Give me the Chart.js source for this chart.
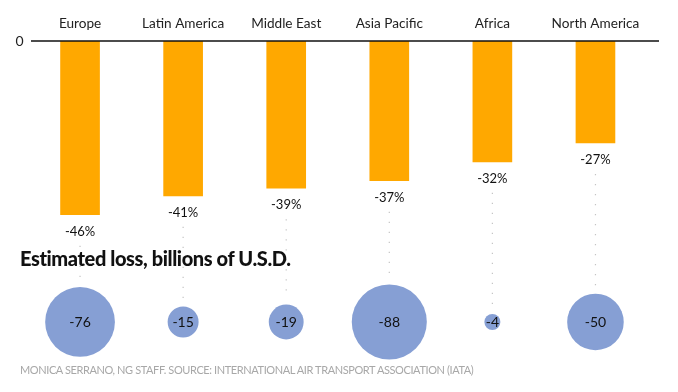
<!DOCTYPE html>
<html>
<head>
<meta charset="utf-8">
<script src="https://cdn.jsdelivr.net/npm/chart.js@4.4.1/dist/chart.umd.min.js"></script>
<style>
  html, body { margin: 0; padding: 0; background: #fff; }
  #wrap { position: relative; width: 678px; height: 392px; font-family: Lato, sans-serif; }
  #chart { position: absolute; left: 0; top: 0; }
  .title { position: absolute; left: 20px; top: 246px; font-size: 20px; font-weight: 900; color: #111; letter-spacing: -0.4px; }
  .credit { position: absolute; left: 20px; top: 363px; font-size: 11px; color: #a8a8a8; letter-spacing: -0.4px; }
</style>
</head>
<body>
<div id="wrap">
  <canvas id="chart" width="678" height="392"></canvas>
  <div class="title">Estimated loss, billions of U.S.D.</div>
  <div class="credit">MONICA SERRANO, NG STAFF. SOURCE: INTERNATIONAL AIR TRANSPORT ASSOCIATION (IATA)</div>
</div>
<script>
// Regions and their values
const regions = ['Europe', 'Latin America', 'Middle East', 'Asia Pacific', 'Africa', 'North America'];
const pctChange = [-46, -41, -39, -37, -32, -27];     // change in passenger traffic, %
const lossBillions = [-76, -15, -19, -88, -4, -50];   // estimated loss, billions of USD

const BAR_COLOR = '#ffa800';
const BUBBLE_COLOR = '#869fd4';
const BUBBLE_ROW = -74.4;   // vertical row where the loss bubbles sit (in y-scale units)

const chartEl = document.getElementById('chart');

// Zero line, labels under the bars, dotted leaders and labels inside the bubbles
const annotate = {
    id: 'annotate',
    afterDatasetsDraw(chart) {
        const { ctx } = chart;
        const bars = chart.getDatasetMeta(0).data;
        const bubbles = chart.getDatasetMeta(1).data;
        const y0 = chart.scales.y.getPixelForValue(0);
        ctx.save();
        ctx.strokeStyle = '#111';
        ctx.lineWidth = 1.5;
        ctx.beginPath();
        ctx.moveTo(31, y0);
        ctx.lineTo(659, y0);
        ctx.stroke();

        ctx.font = '13px Lato, sans-serif';
        ctx.textAlign = 'center';
        ctx.textBaseline = 'middle';
        bars.forEach((bar, i) => {
            const ly = bar.y + 17;
            ctx.fillStyle = '#111';
            ctx.fillText(pctChange[i] + '%', bar.x, ly);

            const b = bubbles[i];
            ctx.strokeStyle = '#c4c4c4';
            ctx.lineWidth = 1.2;
            ctx.setLineDash([1.2, 8.8]);
            ctx.beginPath();
            ctx.moveTo(bar.x, ly + 14);
            ctx.lineTo(bar.x, b.y - b.options.radius - 8);
            ctx.stroke();
            ctx.setLineDash([]);
        });
        ctx.font = '14px Lato, sans-serif';
        bubbles.forEach((b, i) => {
            ctx.fillStyle = '#111';
            ctx.fillText(String(lossBillions[i]), b.x, b.y + 1);
        });
        ctx.restore();
    }
};

new Chart(chartEl, {
    type: 'bar',
    data: {
        labels: regions,
        datasets: [
            {
                type: 'bar',
                data: pctChange,
                backgroundColor: BAR_COLOR,
                barThickness: 39,
                order: 2,
            },
            {
                type: 'bubble',
                data: regions.map((r, i) => ({ x: r, y: BUBBLE_ROW, r: 4 * Math.sqrt(Math.abs(lossBillions[i])) })),
                backgroundColor: BUBBLE_COLOR,
                borderWidth: 0,
                clip: false,
                order: 1,
            },
        ],
    },
    options: {
        responsive: false,
        animation: false,
        events: [],
        layout: { autoPadding: false, padding: { top: 0, left: 0, right: 31, bottom: 30 } },
        plugins: { legend: { display: false }, tooltip: { enabled: false } },
        scales: {
            x: {
                position: 'top',
                afterFit: (s) => { s.height = 41; },
                grid: { display: false, drawTicks: false },
                border: { display: false },
                ticks: { color: '#222', padding: 9, font: { family: 'Lato', size: 13.6 } },
            },
            y: {
                min: -85,
                max: 0,
                afterFit: (s) => { s.width = 28.5; },
                afterBuildTicks: (s) => { s.ticks = [{ value: 0 }]; },
                grid: { display: false, drawTicks: false },
                border: { display: false },
                ticks: { color: '#222', padding: 5, font: { family: 'Lato', size: 14 } },
            },
        },
    },
    plugins: [annotate],
});
</script>
</body>
</html>
